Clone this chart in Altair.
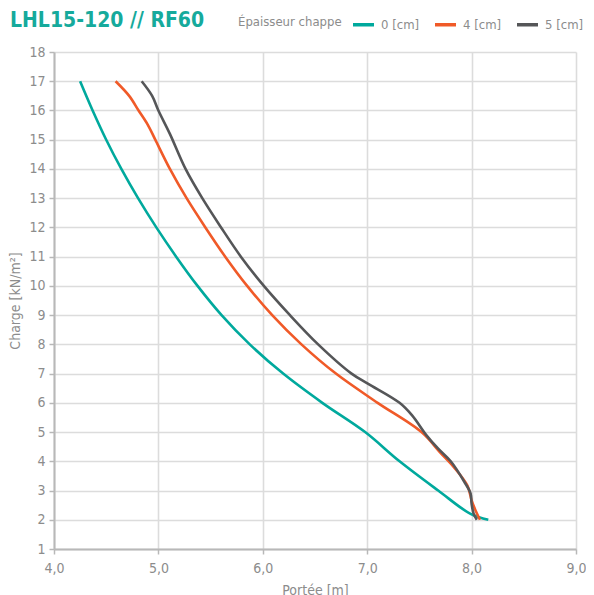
import altair as alt
import pandas as pd

series_names = ["0 [cm]", "4 [cm]", "5 [cm]"]
series_colors = ["#00a99d", "#f05a28", "#555658"]

span_0 = [4.25, 4.37, 4.50, 4.645, 4.805, 4.98, 5.17, 5.375, 5.605, 5.875, 6.195, 6.57, 6.98, 7.31, 7.68, 7.99, 8.16]
load_0 = [17.0, 16.0, 15.0, 14.0, 13.0, 12.0, 11.0, 10.0, 9.0, 8.0, 7.0, 6.0, 5.0, 4.0, 3.0, 2.2, 2.0]

span_4 = [4.59, 4.72, 4.81, 4.90, 4.97, 5.11, 5.27, 5.45, 5.64, 5.85, 6.09, 6.37, 6.70, 7.10, 7.52, 7.70, 7.83, 7.96, 8.00, 8.04, 8.08]
load_4 = [17.0, 16.5, 16.0, 15.5, 15.0, 14.0, 13.0, 12.0, 11.0, 10.0, 9.0, 8.0, 7.0, 6.0, 5.0, 4.3, 3.8, 3.17, 2.66, 2.3, 2.0]

span_5 = [4.84, 4.94, 5.00, 5.11, 5.26, 5.42, 5.60, 5.79, 6.01, 6.26, 6.53, 6.85, 7.01, 7.31, 7.43, 7.57, 7.68, 7.80, 7.93, 7.99, 8.00, 8.02, 8.05]
load_5 = [17.0, 16.5, 16.0, 15.2, 14.0, 13.0, 12.0, 11.0, 10.0, 9.0, 8.0, 7.0, 6.65, 6.0, 5.57, 4.88, 4.43, 4.0, 3.3, 2.9, 2.55, 2.2, 2.0]

x_ticks = [4, 5, 6, 7, 8, 9]
y_ticks = list(range(1, 19))

rows = []
for name, xs, ys in zip(series_names, [span_0, span_4, span_5], [load_0, load_4, load_5]):
    for i, (x, y) in enumerate(zip(xs, ys)):
        rows.append({"serie": name, "portee": x, "charge": y, "idx": i})
df = pd.DataFrame(rows)

FONT = "Liberation Sans Narrow, DejaVu Sans Condensed, Roboto, sans-serif"
GRAY = "#8c8c8c"

chart = alt.Chart(df).mark_line(strokeWidth=2.6, interpolate="catmull-rom").encode(
    x=alt.X("portee:Q", title="Portée [m]",
            scale=alt.Scale(domain=[4, 9], nice=False, zero=False),
            axis=alt.Axis(values=x_ticks, labelFlush=False,
                          labelExpr="replace(format(datum.value, '.1f'), '.', ',')")),
    y=alt.Y("charge:Q", title="Charge [kN/m²]",
            scale=alt.Scale(domain=[1, 18], nice=False, zero=False),
            axis=alt.Axis(values=y_ticks, labelFlush=False)),
    color=alt.Color("serie:N", title="Épaisseur chappe",
                    scale=alt.Scale(domain=series_names, range=series_colors),
                    legend=alt.Legend(orient="none", legendX=184, legendY=-40,
                                      direction="horizontal", titleOrient="left",
                                      symbolType="stroke", symbolSize=440,
                                      symbolStrokeWidth=3.5, columnPadding=8,
                                      labelOffset=5)),
    order="idx:Q",
).properties(
    width=522, height=497,
    autosize=alt.AutoSizeParams(type="none"),
    padding={"left": 46, "top": 44, "right": 10, "bottom": 50},
    title=alt.TitleParams("LHL15-120 // RF60", anchor="start", frame="group", dx=-44, offset=-19,
                          font=FONT, fontSize=21, fontWeight="bold", color="#16aa9c"),
).configure_view(stroke=None).configure_axis(
    labelFont=FONT, titleFont=FONT, labelFontSize=14, titleFontSize=14,
    labelColor=GRAY, titleColor=GRAY, titleFontWeight="normal",
    gridColor="#dcdcdc", gridWidth=1.6, domainColor="#b8b8b8", domainWidth=2,
    tickColor="#b8b8b8", tickWidth=1.5, tickSize=5, labelPadding=4,
).configure_axisY(titlePadding=6).configure_axisX(titlePadding=8, labelPadding=7).configure_legend(
    labelFont=FONT, titleFont=FONT, labelFontSize=13, titleFontSize=13,
    labelColor=GRAY, titleColor=GRAY, titleFontWeight="normal", titlePadding=9,
)

chart.save("out.html", embed_options={"renderer": "svg", "actions": False})
